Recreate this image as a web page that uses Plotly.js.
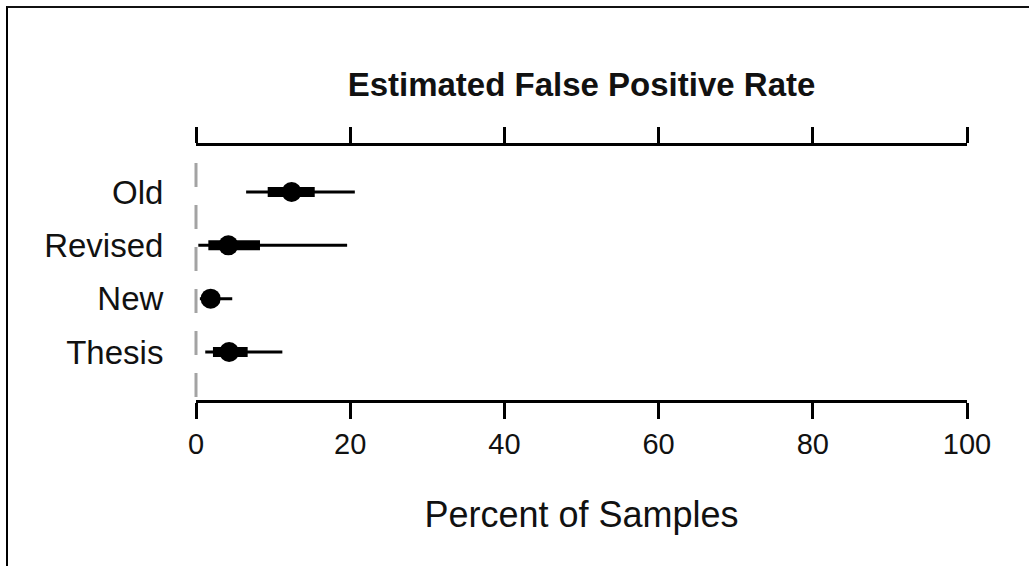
<!DOCTYPE html>
<html>
<head>
<meta charset="utf-8">
<script src="https://cdn.plot.ly/plotly-3.0.1.min.js"></script>
<style>
  html, body { margin: 0; padding: 0; background: #fff; }
  #frame { position: absolute; left: 6px; top: 6px; width: 1023px; height: 560px;
           border-top: 2px solid #111; border-left: 2px solid #000; box-sizing: border-box; }
  #chart { position: absolute; left: 0; top: 0; width: 1029px; height: 566px; }
</style>
</head>
<body>
<div id="chart"></div>
<div id="frame"></div>
<script>
// Data
const categories = ['Old', 'Revised', 'New', 'Thesis'];
const estimate   = [12.4, 4.2, 1.9, 4.3];
const low95      = [6.5, 0.3, 0.5, 1.2];
const high95     = [20.6, 19.6, 4.7, 11.2];
const low50      = [9.3, 1.6, 0.9, 2.2];
const high50     = [15.4, 8.3, 3.0, 6.7];
const xTicks     = [0, 20, 40, 60, 80, 100];
const refLineX   = 0;

const n = categories.length;
const ypos = categories.map((c, i) => n - i);

function segs(lo, hi) {
  const xs = [], ys = [];
  for (let i = 0; i < n; i++) {
    xs.push(lo[i], hi[i], null);
    ys.push(ypos[i], ypos[i], null);
  }
  return {xs, ys};
}
const s95 = segs(low95, high95);
const s50 = segs(low50, high50);

const traces = [
  { x: s95.xs, y: s95.ys, mode: 'lines', line: {color: '#000', width: 3}, cliponaxis: false, hoverinfo: 'skip' },
  { x: s50.xs, y: s50.ys, mode: 'lines', line: {color: '#000', width: 10}, cliponaxis: false, hoverinfo: 'skip' },
  { x: estimate, y: ypos, mode: 'markers', marker: {color: '#000', size: 20, symbol: 'circle'}, cliponaxis: false }
];

const xMin = 0, xMax = 100;

const layout = {
  width: 1029, height: 566,
  margin: {l: 196, r: 62, t: 146, b: 166},
  paper_bgcolor: 'rgba(0,0,0,0)', plot_bgcolor: 'rgba(0,0,0,0)',
  showlegend: false,
  font: {family: 'Liberation Sans, Arial, sans-serif', color: '#000'},
  title: {
    text: '<b>Estimated False Positive Rate</b>',
    font: {size: 33, family: 'Liberation Sans, Arial, sans-serif', color: '#111'},
    x: 0.5, xanchor: 'center', xref: 'paper',
    y: 1 - 84/566, yanchor: 'middle', yref: 'container'
  },
  xaxis: {
    range: [xMin, xMax], tickvals: xTicks, ticktext: xTicks.map(String),
    showline: true, linewidth: 3, linecolor: '#000',
    ticks: 'outside', ticklen: 16, tickwidth: 3, tickcolor: '#000',
    mirror: 'ticks', showgrid: false, zeroline: false,
    tickfont: {size: 29, color: '#111'},
    title: {text: 'Percent of Samples', font: {size: 36, color: '#111'}, standoff: 44}
  },
  yaxis: {
    range: [0.1, 4.863], tickvals: ypos, ticktext: categories,
    showline: false, showgrid: false, zeroline: false,
    ticks: 'outside', ticklen: 25, tickcolor: 'rgba(0,0,0,0)',
    tickfont: {size: 33, color: '#111'}
  },
  shapes: [
    { type: 'line', xref: 'paper', yref: 'paper',
      x0: (refLineX - xMin) / (xMax - xMin), x1: (refLineX - xMin) / (xMax - xMin),
      y0: 0.933, y1: 0,
      line: {color: '#a3a3a3', width: 3, dash: '24px,18px'}, layer: 'below' }
  ]
};

Plotly.newPlot('chart', traces, layout, {staticPlot: true, displayModeBar: false});
</script>
</body>
</html>
